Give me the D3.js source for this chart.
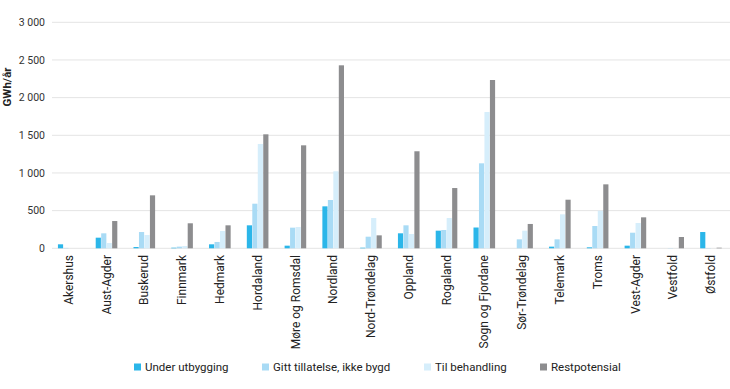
<!DOCTYPE html>
<html><head><meta charset="utf-8">
<script src="https://cdn.jsdelivr.net/npm/d3@7/dist/d3.min.js"></script>
<style>body{margin:0;background:#fff;} svg{display:block;font-family:Roboto,"Liberation Sans",sans-serif;}</style>
</head><body>
<svg id="c" width="730" height="389"></svg>
<script>
const categories = ["Akershus","Aust-Agder","Buskerud","Finnmark","Hedmark","Hordaland","Møre og Romsdal","Nordland","Nord-Trøndelag","Oppland","Rogaland","Sogn og Fjordane","Sør-Trøndelag","Telemark","Troms","Vest-Agder","Vestfold","Østfold"];
const seriesNames = ["Under utbygging","Gitt tillatelse, ikke bygd","Til behandling","Restpotensial"];
const underUtbygging = [53,141,17,8,53,305,35,557,8,199,234,276,0,22,13,35,0,216];
const gittTillatelse = [5,199,216,22,84,592,274,641,154,305,243,1128,119,119,296,207,3,4];
const tilBehandling = [0,70,177,30,230,1385,283,1022,402,190,402,1809,234,451,499,336,0,0];
const restpotensial = [0,362,703,332,305,1513,1367,2429,172,1288,800,2234,323,645,849,411,150,8];
const yTicks = [0,500,1000,1500,2000,2500,3000];
const yTickLabels = ["0","500","1 000","1 500","2 000","2 500","3 000"];
const colors = ["#2bb6e9","#a9dbf5","#d6eefb","#8d8d8f"];

const series = [underUtbygging, gittTillatelse, tilBehandling, restpotensial];
const svg = d3.select("#c");
const y = d3.scaleLinear().domain([0,3000]).range([248.3,22.3]);
const x0 = d3.scaleBand().domain(categories).range([50,730]).paddingInner(0.42).paddingOuter(0.21);
const x1 = d3.scaleBand().domain(d3.range(4)).range([0,x0.bandwidth()]);

// grid
svg.append("g").selectAll("line").data(yTicks).join("line")
  .attr("x1",52).attr("x2",730).attr("y1",d=>y(d)).attr("y2",d=>y(d))
  .attr("stroke","#e4e4e4").attr("stroke-width",1);
// y labels
svg.append("g").selectAll("text").data(yTicks).join("text")
  .attr("x",45).attr("y",d=>y(d)).attr("dy","0.35em").attr("text-anchor","end")
  .attr("font-size",10.5).attr("fill","#333").text((d,i)=>yTickLabels[i]);
svg.append("text").attr("transform","translate(11,87) rotate(-90)").attr("text-anchor","middle")
  .attr("font-size",11.5).attr("font-weight","bold").attr("fill","#222").text("GWh/år");

// bars
const g = svg.append("g").selectAll("g").data(categories).join("g")
  .attr("transform",d=>`translate(${x0(d)},0)`);
g.selectAll("rect").data((d,i)=>series.map((s,k)=>({k,v:s[i]}))).join("rect")
  .attr("x",d=>x1(d.k)).attr("width",x1.bandwidth()-0.3)
  .attr("y",d=>y(d.v)).attr("height",d=>y(0)-y(d.v))
  .attr("fill",d=>colors[d.k]);

// x labels
svg.append("g").selectAll("text").data(categories).join("text")
  .attr("transform",d=>`translate(${x0(d)+x0.bandwidth()/2+4},255) rotate(-90)`)
  .attr("text-anchor","end").attr("font-size",12).attr("fill","#222").text(d=>d);

// legend
const lx = [134,262,424,540];
const lg = svg.append("g").selectAll("g").data(seriesNames).join("g")
  .attr("transform",(d,i)=>`translate(${lx[i]},367)`);
lg.append("rect").attr("x",0).attr("y",-3.5).attr("width",7).attr("height",7).attr("fill",(d,i)=>colors[i]);
lg.append("text").attr("x",11).attr("y",0).attr("dy","0.35em").attr("font-size",11.5).attr("fill","#222").text(d=>d);
</script>
</body></html>
